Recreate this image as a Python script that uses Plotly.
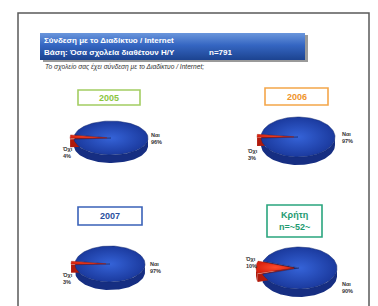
import numpy as np
import plotly.graph_objects as go

# ---------------- data ----------------
panels = ["2005", "2006", "2007", "Κρήτη"]
yes_pct = [96, 97, 97, 90]
no_pct = [4, 3, 3, 10]
slice_names = ["Ναι", "Όχι"]
box_text = ["2005", "2006", "2007", "Κρήτη<br>n=~52~"]
title_line1 = "Σύνδεση με το Διαδίκτυο / Internet"
title_line2 = "Βάση: Όσα σχολεία διαθέτουν Η/Υ"
title_n = "n=791"
question = "Το σχολείο σας έχει σύνδεση με το Διαδίκτυο / Internet;"

# ---------------- layout (pixel coordinates) ----------------
pie_cx = [111, 298, 110, 299]
pie_cy = [138, 137, 264, 268]
pie_rx = [37, 37, 35, 38]
pie_ry = [17, 20, 18, 21]
pie_depth = [8, 8, 8, 8]
explode = [4, 4, 4, 5]
no_angle = [183, 182, 183, 181]
box_x0 = [78, 265, 78, 267]
box_x1 = [140, 328, 142, 322]
box_y0 = [90, 88, 207, 205]
box_y1 = [105, 105, 225, 237]
box_col = ["#a3cd62", "#f4a64a", "#3a62b8", "#2aa57e"]
text_col = ["#8cc63f", "#f0952c", "#2a4f9e", "#1d9a70"]
yes_lab_xy = [(149, 138), (340, 137), (148, 267), (340, 287)]
no_lab_xy = [(60, 152), (245, 154), (60, 278), (243, 262)]

BLUE_TOP = [[0, "#3563d8"], [1, "#1b3a9e"]]
BLUE_SIDE = "#162e82"
BLUE_CUT = "#0e1f5c"
RED_TOP = [[0, "#ff4a2a"], [1, "#d8220e"]]
RED_SIDE = "#b01a0c"

fig = go.Figure()


def arc(cx, cy, rx, ry, t0, t1, n=60):
    t = np.radians(np.linspace(t0, t1, n))
    return cx + rx * np.cos(t), cy + ry * np.sin(t)


def add_poly(xs, ys, color=None, grad=None, line="rgba(0,0,0,0)", lw=0):
    kw = dict(x=list(xs) + [xs[0]], y=list(ys) + [ys[0]], mode="lines",
              fill="toself", line=dict(color=line, width=lw),
              hoverinfo="skip", showlegend=False)
    if grad is not None:
        kw["fillgradient"] = dict(type="radial", colorscale=grad)
        kw["fillcolor"] = grad[0][1]
    else:
        kw["fillcolor"] = color
    fig.add_trace(go.Scatter(**kw))


def visible_ranges(a0, a1):
    out = []
    for k in (-1, 0, 1, 2):
        lo, hi = max(a0, k * 360), min(a1, k * 360 + 180)
        if hi > lo:
            out.append((lo, hi))
    return out


for i in range(4):
    cx, cy, rx, ry, d = pie_cx[i], pie_cy[i], pie_rx[i], pie_ry[i], pie_depth[i]
    span_no = no_pct[i] / 100 * 360
    span_yes = yes_pct[i] / 100 * 360
    tc = no_angle[i]
    r0, r1 = tc - span_no / 2, tc + span_no / 2
    b0, b1 = r1, r1 + span_yes
    ex = explode[i]
    ox = ex * np.cos(np.radians(tc))
    oy = ex * np.sin(np.radians(tc)) * ry / rx

    for lo, hi in visible_ranges(b0, b1):
        x1, y1 = arc(cx, cy, rx, ry, lo, hi)
        add_poly(np.r_[x1, x1[::-1]], np.r_[y1, y1[::-1] + d], color=BLUE_SIDE)
    px, py = cx + rx * np.cos(np.radians(b0)), cy + ry * np.sin(np.radians(b0))
    add_poly([cx, px, px, cx], [cy, py, py + d, cy + d], color=BLUE_CUT)
    rcx, rcy = cx + ox, cy + oy
    for lo, hi in visible_ranges(r0, r1):
        x1, y1 = arc(rcx, rcy, rx, ry, lo, hi, 20)
        add_poly(np.r_[x1, x1[::-1]], np.r_[y1, y1[::-1] + d], color=RED_SIDE)
    qx, qy = rcx + rx * np.cos(np.radians(r0)), rcy + ry * np.sin(np.radians(r0))
    add_poly([rcx, qx, qx, rcx], [rcy, qy, qy + d, rcy + d], color=RED_SIDE)
    x1, y1 = arc(cx, cy, rx, ry, b0, b1, 120)
    add_poly(np.r_[cx, x1], np.r_[cy, y1], grad=BLUE_TOP, line="#13286e", lw=0.5)
    x1, y1 = arc(rcx, rcy, rx, ry, r0, r1, 20)
    add_poly(np.r_[rcx, x1], np.r_[rcy, y1], grad=RED_TOP, line="#a0180c", lw=0.4)

annotations = []
shapes = []

shapes.append(dict(type="path", path="M18,306 L18,13 L369,13 L369,306",
                   line=dict(color="#5a5a5a", width=1.5), xref="x", yref="y"))

shapes.append(dict(type="rect", x0=43, x1=308, y0=35, y1=62, xref="x", yref="y",
                   fillcolor="#9a9a9a", line=dict(width=0), layer="below"))
fig.add_trace(go.Scatter(x=[40, 305, 305, 40, 40], y=[33, 33, 60, 60, 33], mode="lines",
                         fill="toself", line=dict(width=0, color="rgba(0,0,0,0)"),
                         fillcolor="#2f5fb8",
                         fillgradient=dict(type="vertical", start=33, stop=60,
                                           colorscale=[[0, "#6a96dc"], [0.45, "#3566c2"], [1, "#1c4390"]]),
                         hoverinfo="skip", showlegend=False))

tfont = dict(family="Liberation Sans", size=8, color="white")
annotations.append(dict(x=42, y=40.5, text="<b>" + title_line1 + "</b>", showarrow=False,
                        xanchor="left", yanchor="middle", font=tfont))
annotations.append(dict(x=42, y=52, text="<b>" + title_line2 + "</b>", showarrow=False,
                        xanchor="left", yanchor="middle", font=tfont))
annotations.append(dict(x=207, y=52, text="<b>" + title_n + "</b>", showarrow=False,
                        xanchor="left", yanchor="middle", font=tfont))
annotations.append(dict(x=43, y=67, text="<i>" + question + "</i>", showarrow=False,
                        xanchor="left", yanchor="middle",
                        font=dict(family="Liberation Sans Narrow, Liberation Sans", size=6.6, color="#333333")))

for i in range(4):
    shapes.append(dict(type="rect", x0=box_x0[i], x1=box_x1[i], y0=box_y0[i], y1=box_y1[i],
                       xref="x", yref="y", fillcolor="white",
                       line=dict(color=box_col[i], width=1.6)))
    annotations.append(dict(x=(box_x0[i] + box_x1[i]) / 2, y=(box_y0[i] + box_y1[i]) / 2,
                            text="<b>" + box_text[i] + "</b>", showarrow=False,
                            xanchor="center", yanchor="middle",
                            font=dict(family="Liberation Sans", size=9, color=text_col[i])))
    lx, ly = yes_lab_xy[i]
    annotations.append(dict(x=lx, y=ly, text="<b>%s<br>%d%%</b>" % (slice_names[0], yes_pct[i]),
                            showarrow=False, xanchor="left", yanchor="middle", align="left",
                            font=dict(family="Liberation Sans", size=5.5, color="#333333")))
    lx, ly = no_lab_xy[i]
    annotations.append(dict(x=lx, y=ly, text="<b>%s<br>%d%%</b>" % (slice_names[1], no_pct[i]),
                            showarrow=False, xanchor="left", yanchor="middle", align="left",
                            font=dict(family="Liberation Sans", size=5.5, color="#333333")))

fig.update_layout(
    width=378, height=306, margin=dict(l=0, r=0, t=0, b=0),
    paper_bgcolor="white", plot_bgcolor="white",
    xaxis=dict(range=[0, 378], visible=False, fixedrange=True),
    yaxis=dict(range=[306, 0], visible=False, fixedrange=True),
    shapes=shapes, annotations=annotations, showlegend=False,
)

fig.write_html("out.html", config={"displayModeBar": False},
               post_script="document.body.style.margin='0px';document.body.style.overflow='hidden';")
